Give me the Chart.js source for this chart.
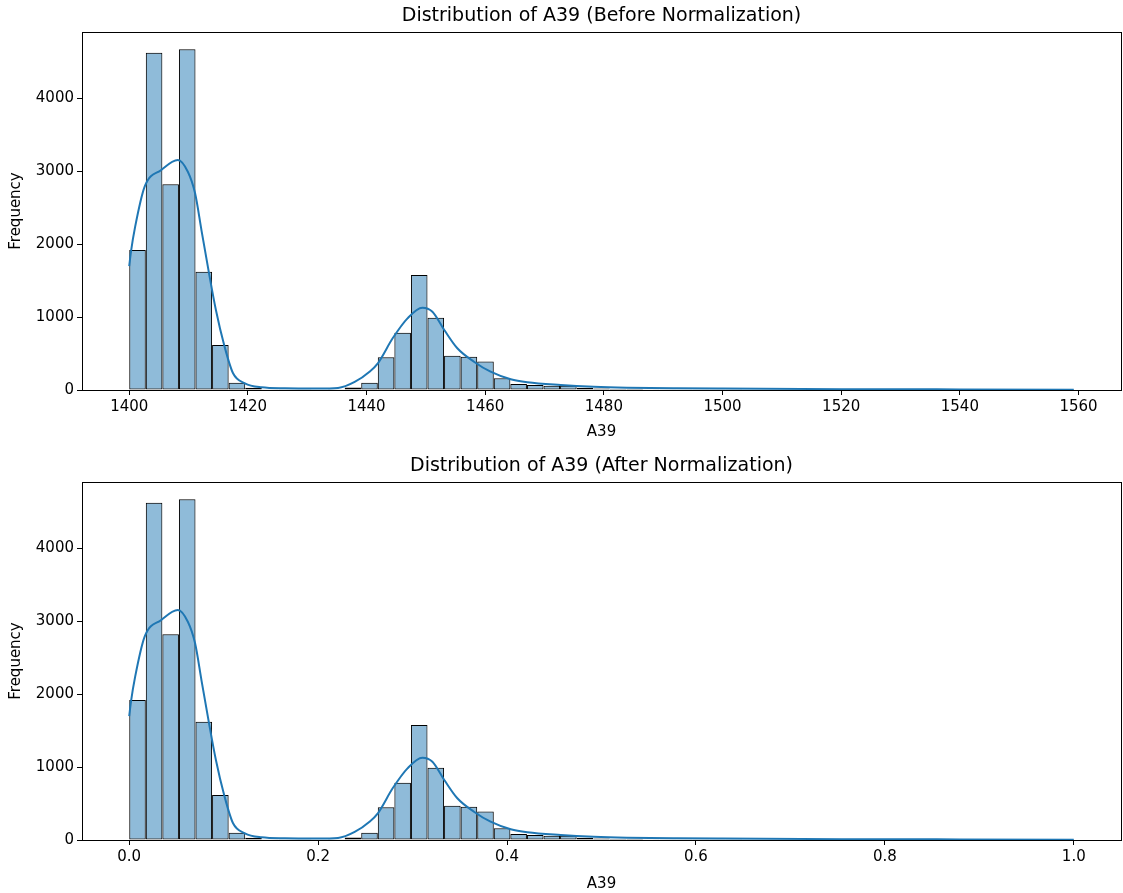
<!DOCTYPE html>
<html>
<head>
<meta charset="utf-8">
<script src="https://cdn.jsdelivr.net/npm/chart.js@4.4.1/dist/chart.umd.min.js"></script>
<style>
  html, body { margin: 0; padding: 0; background: #ffffff; }
  .box { position: absolute; left: 0; }
</style>
</head>
<body>
<div class="box" style="top:0px;width:1123px;height:446px"><canvas id="c1" width="1123" height="446" style="width:1123px;height:446px"></canvas></div>
<div class="box" style="top:450px;width:1123px;height:443px"><canvas id="c2" width="1123" height="443" style="width:1123px;height:443px"></canvas></div>
<script>
// ---------------- DATA ----------------
const rawMin = 1400;
const rawMax = 1559.2;
// histogram counts, 57 equal bins from rawMin to rawMax
const binCounts = [
  1920, 4627, 2821, 4673, 1623, 617, 100, 30, 10, 5,
  5, 6, 12, 35, 100, 449, 786, 1577, 992, 470,
  457, 390, 160, 82, 69, 59, 59, 30, 20, 15,
  14, 12, 12, 10, 10, 9, 9, 8, 7, 6,
  6, 5, 5, 4, 4, 4, 3, 3, 3, 2,
  2, 2, 2, 1, 1, 1, 1
];
// KDE curve (raw A39 units, frequency scale)
const kdeX = [1400, 1400.3, 1401.0, 1402.6, 1405.4, 1408.2, 1409.9, 1411.1, 1412.2, 1413.4, 1414.6, 1416.0, 1417.5, 1419.5, 1422.3, 1426.2, 1431.8, 1435.2, 1438.0, 1440.5, 1441.9, 1444.4, 1446.9, 1449.4, 1451.1, 1453.1, 1455.3, 1458.1, 1460.9, 1464.3, 1467.1, 1472.7, 1478.3, 1483.9, 1492.3, 1500, 1520, 1540, 1559.2];
const kdeY = [1700, 1900, 2240, 2789, 3018, 3155, 2990, 2698, 2180, 1623, 1100, 617, 229, 92, 37, 23, 20, 28, 110, 250, 366, 709, 983, 1129, 1074, 823, 572, 388, 251, 147, 106, 69, 45, 32, 23, 19, 12, 8, 5];
const ticksBefore = [1400, 1420, 1440, 1460, 1480, 1500, 1520, 1540, 1560];
const ticksAfter = [0.0, 0.2, 0.4, 0.6, 0.8, 1.0];
const yTicks = [0, 1000, 2000, 3000, 4000];
const titles = ['Distribution of A39 (Before Normalization)', 'Distribution of A39 (After Normalization)'];
const xLabel = 'A39';
const yLabel = 'Frequency';

// ---------------- CHART ----------------
const FONT = "'DejaVu Sans', sans-serif";
const BAR_FILL = 'rgba(31,119,180,0.5)';
const LINE_COL = '#1f77b4';

const framePlugin = {
  id: 'frameTitle',
  afterDraw(chart, args, opts) {
    const a = chart.chartArea, ctx = chart.ctx;
    ctx.save();
    ctx.strokeStyle = '#000';
    ctx.lineWidth = 1;
    ctx.strokeRect(Math.round(a.left) + 0.5, Math.round(a.top) + 0.5, Math.round(a.right - a.left), Math.round(a.bottom - a.top));
    ctx.fillStyle = '#000';
    ctx.font = "19px " + FONT;
    ctx.textAlign = 'center';
    ctx.textBaseline = 'middle';
    ctx.fillText(opts.text, (a.left + a.right) / 2, a.top - 16);
    ctx.restore();
  }
};

function makeChart(id, lo, hi, xTicks, fmt, title, canvasH, titlePadBottom) {
  const n = binCounts.length;
  const w = (hi - lo) / n;
  const norm = v => lo + (v - rawMin) / (rawMax - rawMin) * (hi - lo);
  const bars = binCounts.map((c, k) => ({ x: lo + (k + 0.5) * w, y: c }));
  const kde = kdeX.map((x, i) => ({ x: norm(x), y: kdeY[i] }));
  const pad = (hi - lo) * 0.05;
  return new Chart(document.getElementById(id), {
    type: 'bar',
    data: {
      datasets: [
        {
          type: 'line', data: kde, borderColor: LINE_COL, borderWidth: 2,
          pointRadius: 0, fill: false, cubicInterpolationMode: 'monotone', order: 0
        },
        {
          type: 'bar', data: bars, backgroundColor: BAR_FILL, borderColor: '#000',
          borderWidth: 1, borderSkipped: false, barPercentage: 1, categoryPercentage: 1,
          inflateAmount: 0, grouped: false, order: 1
        }
      ]
    },
    options: {
      responsive: false,
      devicePixelRatio: 1,
      animation: false,
      events: [],
      layout: { padding: { top: 32, right: 2, left: 0, bottom: 0 } },
      plugins: { legend: { display: false }, tooltip: { enabled: false }, frameTitle: { text: title } },
      scales: {
        x: {
          type: 'linear', min: lo - pad, max: hi + pad, offset: false,
          grid: { display: true, drawOnChartArea: false, drawTicks: true, tickLength: 5, color: '#000', offset: false },
          border: { display: true, color: '#000', width: 1 },
          ticks: { font: { family: FONT, size: 15 }, color: '#000', padding: 3, maxRotation: 0, autoSkip: false, callback: fmt },
          title: { display: true, text: xLabel, font: { family: FONT, size: 15 }, color: '#000', padding: { top: 0, bottom: titlePadBottom } },
          afterBuildTicks: s => { s.ticks = xTicks.map(v => ({ value: v })); },
          afterFit: s => { s.height = canvasH - 390; }
        },
        y: {
          type: 'linear', min: 0, max: 4910,
          grid: { display: true, drawOnChartArea: false, drawTicks: true, tickLength: 5, color: '#000' },
          border: { display: true, color: '#000', width: 1 },
          ticks: { font: { family: FONT, size: 15 }, color: '#000', padding: 3, autoSkip: false, callback: v => String(v) },
          title: { display: true, text: yLabel, font: { family: FONT, size: 15 }, color: '#000', padding: { top: 7, bottom: 0 } },
          afterBuildTicks: s => { s.ticks = yTicks.map(v => ({ value: v })); },
          afterFit: s => { s.width = 82; }
        }
      }
    },
    plugins: [framePlugin]
  });
}

makeChart('c1', rawMin, rawMax, ticksBefore, v => String(v), titles[0], 446, 5);
makeChart('c2', 0, 1, ticksAfter, v => Number(v).toFixed(1), titles[1], 443, 0);
</script>
</body>
</html>
